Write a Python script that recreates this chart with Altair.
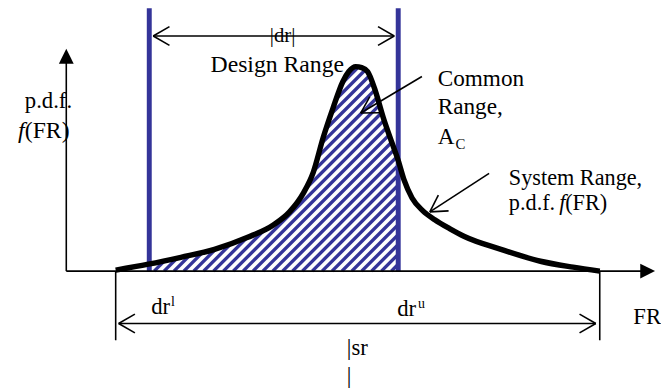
import math
import numpy as np
import pandas as pd
import altair as alt

# ---------------- data (FR = horizontal value, pdf = vertical value) ----------------
# system-range p.d.f. curve f(FR)
curve_fr = [50, 83, 116, 150, 183, 210, 226, 240, 250, 260, 270, 280, 286, 293,
            299, 305, 313, 321, 330, 336, 342, 350, 361, 373, 388, 403, 440, 480, 513, 540]
curve_pdf = [1, 7, 14, 22, 34, 47, 60, 79, 100, 135, 165, 192, 202, 207,
             206, 202, 182, 155, 129, 112, 92, 74, 61, 52, 43, 35, 22, 10, 4, 0]

# design range limits dr^l, dr^u and system range limits
design_lo, design_hi = 84, 336
system_lo, system_hi = 50, 540
design_line_top = 266

# axis extents (arrow tips)
y_axis_top = 225
x_axis_right = 596

# dimension arrows
dr_arrow_y = 238
sr_arrow_y = -53
sr_tick_bottom = -70

# leader arrows (tail -> tip)
common_tail, common_tip = (360, 197), (298, 160)
system_tail, system_tip = (428, 99), (368, 60)

# labels: (x, y, text, size)
labels = [
    (-42, 165, "p.d.f.", 23),
    (-42, 135, "(FR)", 24),
    (206, 232, "|dr|", 21),
    (146, 202, "Design Range", 24),
    (376, 187, "Common", 23.5),
    (376, 159, "Range,", 23.5),
    (376, 129, "A", 23.5),
    (394, 124, "C", 15),
    (448, 87, "System Range,", 22.5),
    (448, 62, "p.d.f.", 22.5),
    (505, 62, "(FR)", 22.5),
    (86, -43, "dr", 23),
    (106, -35, "l", 14),
    (335, -45, "dr", 23),
    (356, -37, "u", 14),
    (574, -54, "FR", 23),
    (284, -85, "|sr", 23),
    (284, -113, "|", 23),
]
italic_labels = [
    (-49, 135, "f", 24),
    (499, 62, "f", 22.5),
]

BLUE = "#343499"
FONT = "Liberation Serif"

# ---------------- derived tables ----------------
curve_df = pd.DataFrame({"x": curve_fr, "y": curve_pdf})

# 45-degree hatch lines over the design range (area above the curve is masked)
hatch_top = 215
hatch_rows = []
for c in np.arange(design_lo - hatch_top, design_hi, 10.0):
    lo = max(design_lo, c)
    hi = min(design_hi, c + hatch_top)
    if hi > lo:
        hatch_rows.append(dict(x=lo, y=lo - c, x2=hi, y2=hi - c))
hatch_df = pd.DataFrame(hatch_rows)

blue_df = pd.DataFrame([
    dict(x=design_lo, y=0, x2=design_lo, y2=design_line_top),
    dict(x=design_hi, y=0, x2=design_hi, y2=design_line_top),
])


def arrow_arms(tip, tail, length=19.0, spread=30.0):
    dx, dy = tail[0] - tip[0], tail[1] - tip[1]
    n = math.hypot(dx, dy)
    ux, uy = dx / n, dy / n
    rows = []
    for s in (spread, -spread):
        a = math.radians(s)
        rx = ux * math.cos(a) - uy * math.sin(a)
        ry = ux * math.sin(a) + uy * math.cos(a)
        rows.append(dict(x=tip[0], y=tip[1], x2=tip[0] + length * rx, y2=tip[1] + length * ry))
    return rows


dr_l_tip = (design_lo + 4, dr_arrow_y)
dr_u_tip = (design_hi - 4, dr_arrow_y)
sr_l_tip = (system_lo + 3, sr_arrow_y)
sr_u_tip = (system_hi - 4, sr_arrow_y)

seg_rows = [
    dict(x=0, y=0, x2=0, y2=y_axis_top - 12),
    dict(x=0, y=0, x2=x_axis_right - 12, y2=0),
    dict(x=dr_l_tip[0], y=dr_arrow_y, x2=dr_u_tip[0], y2=dr_arrow_y),
    dict(x=sr_l_tip[0], y=sr_arrow_y, x2=sr_u_tip[0], y2=sr_arrow_y),
    dict(x=system_lo, y=0, x2=system_lo, y2=sr_tick_bottom),
    dict(x=system_hi, y=0, x2=system_hi, y2=sr_tick_bottom),
    dict(x=common_tail[0], y=common_tail[1], x2=common_tip[0], y2=common_tip[1]),
    dict(x=system_tail[0], y=system_tail[1], x2=system_tip[0], y2=system_tip[1]),
]
seg_rows += arrow_arms(dr_l_tip, dr_u_tip)
seg_rows += arrow_arms(dr_u_tip, dr_l_tip)
seg_rows += arrow_arms(sr_l_tip, sr_u_tip)
seg_rows += arrow_arms(sr_u_tip, sr_l_tip)
seg_rows += arrow_arms(common_tip, common_tail)
seg_rows += arrow_arms(system_tip, system_tail)
seg_df = pd.DataFrame(seg_rows)

up_head = pd.DataFrame([dict(x=0, y=y_axis_top)])
right_head = pd.DataFrame([dict(x=x_axis_right, y=0)])

lab_df = pd.DataFrame(labels, columns=["x", "y", "text", "size"])
ital_df = pd.DataFrame(italic_labels, columns=["x", "y", "text", "size"])

# ---------------- chart ----------------
X = alt.X("x:Q", scale=alt.Scale(domain=[-59, 602], nice=False, zero=False), axis=None)
Y = alt.Y("y:Q", scale=alt.Scale(domain=[-118, 264], nice=False, zero=False), axis=None)

hatch = alt.Chart(hatch_df).mark_rule(color=BLUE, strokeWidth=3.4).encode(
    x=X, y=Y, x2="x2:Q", y2="y2:Q")

mask = alt.Chart(curve_df).mark_area(color="white", interpolate="monotone").encode(
    x=X, y=Y, y2=alt.datum(264))

blue = alt.Chart(blue_df).mark_rule(color=BLUE, strokeWidth=5).encode(
    x=X, y=Y, x2="x2:Q", y2="y2:Q")

curve = alt.Chart(curve_df).mark_line(color="black", strokeWidth=5.5,
                                      interpolate="monotone").encode(x=X, y=Y)

segs = alt.Chart(seg_df).mark_rule(color="black", strokeWidth=1.6).encode(
    x=X, y=Y, x2="x2:Q", y2="y2:Q")

head_up = alt.Chart(up_head).mark_point(
    shape="M0,0L1,2L-1,2Z", filled=True, size=225, color="black", opacity=1,
    strokeWidth=0).encode(x=X, y=Y)
head_right = alt.Chart(right_head).mark_point(
    shape="M0,0L-2,-1L-2,1Z", filled=True, size=225, color="black", opacity=1,
    strokeWidth=0).encode(x=X, y=Y)

text = alt.Chart(lab_df).mark_text(
    align="left", baseline="alphabetic", font=FONT, color="black").encode(
    x=X, y=Y, text="text:N", size=alt.Size("size:Q", scale=None, legend=None))

ital = alt.Chart(ital_df).mark_text(
    align="left", baseline="alphabetic", font=FONT, fontStyle="italic",
    color="black").encode(
    x=X, y=Y, text="text:N", size=alt.Size("size:Q", scale=None, legend=None))

chart = alt.layer(hatch, mask, blue, curve, segs, head_up, head_right, text, ital).properties(
    width=661, height=382, padding=0,
    autosize=alt.AutoSizeParams(type="none"),
).configure_view(stroke=None)

chart.save("out.html", embed_options={"renderer": "svg", "actions": False})
